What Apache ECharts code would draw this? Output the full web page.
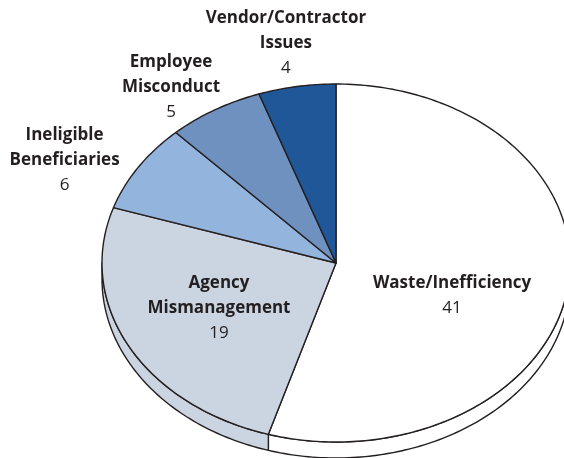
<!DOCTYPE html>
<html>
<head>
<meta charset="utf-8">
<script src="https://cdn.jsdelivr.net/npm/echarts@6/dist/echarts.min.js"></script>
<style>
  html, body { margin: 0; padding: 0; background: #fff; }
  #chart { width: 564px; height: 458px; }
</style>
</head>
<body>
<div id="chart"></div>
<script>
// data, clockwise from 12 o'clock
var categories = ['Waste/Inefficiency', 'Agency\nMismanagement', 'Ineligible\nBeneficiaries', 'Employee\nMisconduct', 'Vendor/Contractor\nIssues'];
var values = [41, 19, 6, 5, 4];
var colors = ['#ffffff', '#cbd5e1', '#93b4dc', '#6e91c0', '#1f5799'];
// label centre as fraction of the radii (x, y) from the pie centre
var labelAt = [[0.496, 0.184], [-0.5, 0.254], [-1.16, -0.575], [-0.705, -0.983], [-0.214, -1.229]];

var total = values.reduce(function (a, b) { return a + b; }, 0);
var starts = [];
var acc = 0;
values.forEach(function (v) { starts.push(acc / total * 360); acc += v; });

var cx = 336, cy = 263, rx = 234, ry = 179, depth = 16;

function pt(deg, dy) {
  var r = deg * Math.PI / 180;
  return [cx + rx * Math.sin(r), cy - ry * Math.cos(r) + (dy || 0)];
}

function arc(a, b, dy) {
  var pts = [];
  var n = Math.max(2, Math.ceil((b - a) / 1));
  for (var i = 0; i <= n; i++) pts.push(pt(a + (b - a) * i / n, dy));
  return pts;
}

function renderItem(params, api) {
  var i = params.dataIndex;
  var a = starts[i];
  var b = a + values[i] / total * 360;
  var children = [];
  // side wall, visible part is between 90 and 270 degrees
  var sa = Math.max(a, 90), sb = Math.min(b, 270);
  if (sb > sa) {
    var side = arc(sa, sb, 0).concat(arc(sa, sb, depth).reverse());
    children.push({
      type: 'polygon',
      shape: { points: side },
      style: { fill: colors[i], stroke: '#231f20', lineWidth: 1.4, lineJoin: 'round' }
    });
  }
  var top = [[cx, cy]].concat(arc(a, b, 0));
  children.push({
    type: 'polygon',
    shape: { points: top },
    style: { fill: colors[i], stroke: '#231f20', lineWidth: 1.4, lineJoin: 'round' },
    z2: 1
  });
  var lines = categories[i].split('\n').map(function (s) { return '{n|' + s + '}'; });
  lines.push('{v|' + api.value(0) + '}');
  children.push({
    type: 'text',
    z2: 10,
    style: {
      x: cx + labelAt[i][0] * rx,
      y: cy + labelAt[i][1] * ry,
      text: lines.join('\n'),
      align: 'center',
      verticalAlign: 'middle',
      rich: {
        n: { fontFamily: 'Open Sans', fontWeight: 'bold', fontSize: 17, lineHeight: 25, fill: '#231f20', align: 'center' },
        v: { fontFamily: 'Open Sans', fontSize: 17, lineHeight: 25, fill: '#231f20', align: 'center' }
      }
    }
  });
  return { type: 'group', children: children };
}

var chart = echarts.init(document.getElementById('chart'));
chart.setOption({
  animation: false,
  series: [{
    type: 'custom',
    coordinateSystem: 'none',
    renderItem: renderItem,
    data: values.map(function (v) { return [v]; })
  }]
});
</script>
</body>
</html>
